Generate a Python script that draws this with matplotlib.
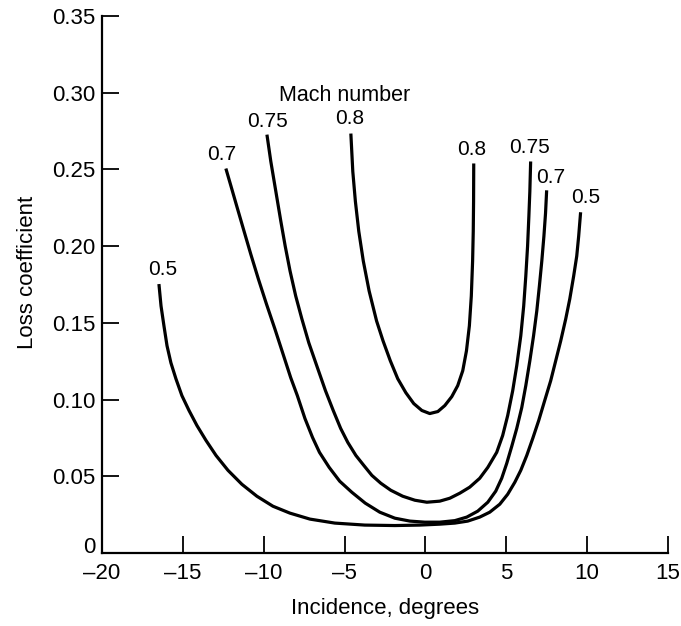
import matplotlib
matplotlib.use("Agg")
import matplotlib.pyplot as plt
from matplotlib.transforms import ScaledTranslation

plt.rcParams['font.family'] = ['Liberation Sans', 'DejaVu Sans']

# Mach 0.5
m05_x = [-16.48, -16.35, -16.17, -15.98, -15.74, -15.43, -15.06, -14.62, -14.13, -13.57,
         -12.95, -12.21, -11.35, -10.42, -9.43, -8.38, -7.14, -5.60, -3.75, -1.89,
         -0.35, 0.89, 1.82, 2.62, 3.36, 3.98, 4.60, 5.09, 5.53, 5.90,
         6.27, 6.64, 7.01, 7.38, 7.75, 8.06, 8.37, 8.68, 8.93, 9.17,
         9.36, 9.48, 9.60]
m05_y = [0.1753, 0.1610, 0.1481, 0.1351, 0.1240, 0.1136, 0.1026, 0.0929, 0.0831, 0.0734,
         0.0636, 0.0539, 0.0448, 0.0370, 0.0305, 0.0260, 0.0221, 0.0195, 0.0182, 0.0179,
         0.0182, 0.0188, 0.0195, 0.0208, 0.0234, 0.0266, 0.0318, 0.0383, 0.0461, 0.0539,
         0.0636, 0.0747, 0.0864, 0.0994, 0.1123, 0.1253, 0.1383, 0.1526, 0.1656, 0.1805,
         0.1935, 0.2065, 0.2221]

# Mach 0.7
m07_x = [-12.34, -12.02, -11.70, -11.25, -10.80, -10.33, -9.83, -9.31, -8.81, -8.33,
         -7.92, -7.45, -6.98, -6.55, -5.95, -5.30, -4.55, -3.72, -2.82, -1.89,
         -0.96, -0.04, 0.89, 1.82, 2.56, 3.24, 3.86, 4.35, 4.72, 5.03,
         5.34, 5.65, 5.96, 6.21, 6.46, 6.69, 6.89, 7.05, 7.20, 7.33,
         7.43, 7.50]
m07_y = [0.2506, 0.2390, 0.2273, 0.2110, 0.1948, 0.1786, 0.1623, 0.1461, 0.1299, 0.1143,
         0.1026, 0.0877, 0.0753, 0.0656, 0.0558, 0.0468, 0.0396, 0.0325, 0.0266, 0.0227,
         0.0208, 0.0201, 0.0201, 0.0211, 0.0234, 0.0273, 0.0331, 0.0403, 0.0487, 0.0584,
         0.0695, 0.0812, 0.0948, 0.1091, 0.1253, 0.1416, 0.1578, 0.1740, 0.1903, 0.2065,
         0.2214, 0.2364]

# Mach 0.75
m075_x = [-9.80, -9.56, -9.25, -8.94, -8.67, -8.37, -8.02, -7.64, -7.21, -6.72,
          -6.18, -5.70, -5.24, -4.80, -4.30, -3.81, -3.31, -2.76, -2.14, -1.40,
          -0.65, 0.09, 0.89, 1.51, 2.13, 2.74, 3.36, 3.86, 4.41, 4.78,
          5.09, 5.40, 5.65, 5.90, 6.08, 6.21, 6.32, 6.40, 6.46, 6.51]
m075_y = [0.2727, 0.2552, 0.2357, 0.2162, 0.2000, 0.1838, 0.1675, 0.1526, 0.1370, 0.1221,
          0.1058, 0.0929, 0.0812, 0.0721, 0.0636, 0.0571, 0.0506, 0.0455, 0.0409, 0.0370,
          0.0344, 0.0331, 0.0338, 0.0357, 0.0390, 0.0429, 0.0487, 0.0558, 0.0656, 0.0766,
          0.0896, 0.1058, 0.1221, 0.1416, 0.1610, 0.1805, 0.2000, 0.2195, 0.2357, 0.2552]

# Mach 0.8
m08_x = [-4.61, -4.49, -4.33, -4.12, -3.84, -3.48, -3.02, -2.62, -2.17, -1.71,
         -1.21, -0.72, -0.22, 0.27, 0.77, 1.20, 1.63, 2.00, 2.31, 2.54,
         2.72, 2.84, 2.92, 2.96, 2.98, 2.99]
m08_y = [0.2734, 0.2487, 0.2292, 0.2097, 0.1903, 0.1708, 0.1513, 0.1383, 0.1253, 0.1136,
         0.1045, 0.0974, 0.0929, 0.0909, 0.0922, 0.0961, 0.1019, 0.1091, 0.1188, 0.1318,
         0.1481, 0.1675, 0.1903, 0.2097, 0.2292, 0.2539]

series = [(m05_x, m05_y), (m07_x, m07_y), (m075_x, m075_y), (m08_x, m08_y)]

# curve labels (text, x, y)
label_text = ['0.5', '0.7', '0.75', '0.8', '0.8', '0.75', '0.7', '0.5']
label_x = [-16.23, -12.6, -9.74, -4.67, 2.87, 6.45, 7.75, 9.9]
label_y = [0.185, 0.260, 0.281, 0.283, 0.263, 0.264, 0.245, 0.232]

xticks = [-20, -15, -10, -5, 0, 5, 10, 15]
xtick_labels = ['\u201320', '\u201315', '\u201310', '\u20135', '0', '5', '10', '15']
yticks = [0, 0.05, 0.10, 0.15, 0.20, 0.25, 0.30, 0.35]
ytick_labels = ['0', '0.05', '0.10', '0.15', '0.20', '0.25', '0.30', '0.35']

fig = plt.figure(figsize=(6.81, 6.26), dpi=100)
ax = fig.add_axes([0.1498, 0.1166, 0.831, 0.8578])

for xs, ys in series:
    ax.plot(xs, ys, color='black', lw=2.3, solid_capstyle='butt', solid_joinstyle='round')

for t, x, y in zip(label_text, label_x, label_y):
    ax.text(x, y, t, fontsize=15, ha='center', va='center')

ax.text(-5.0, 0.298, 'Mach number', fontsize=15.5, ha='center', va='center')

ax.set_xlim(-20, 15)
ax.set_ylim(0, 0.35)
ax.set_xticks(xticks)
ax.set_xticklabels(xtick_labels)
ax.set_yticks(yticks)
ax.set_yticklabels(ytick_labels)
ax.tick_params(direction='in', length=12, width=1.3, labelsize=16, colors='black')
ax.tick_params(axis='x', pad=7)
ax.tick_params(axis='y', pad=5)

# raise the "0" label on the y axis slightly, as in the original
zero_lbl = ax.get_yticklabels()[0]
zero_lbl.set_transform(zero_lbl.get_transform() + ScaledTranslation(0, 8 / 100, fig.dpi_scale_trans))

for s in ['top', 'right']:
    ax.spines[s].set_visible(False)
for s in ['left', 'bottom']:
    ax.spines[s].set_linewidth(1.6)

ax.set_xlabel('Incidence, degrees', fontsize=16, labelpad=10)
ax.set_ylabel('Loss coefficient', fontsize=16, labelpad=10)
ax.yaxis.label.set_y(0.523)

fig.savefig('out.png', dpi=100)
